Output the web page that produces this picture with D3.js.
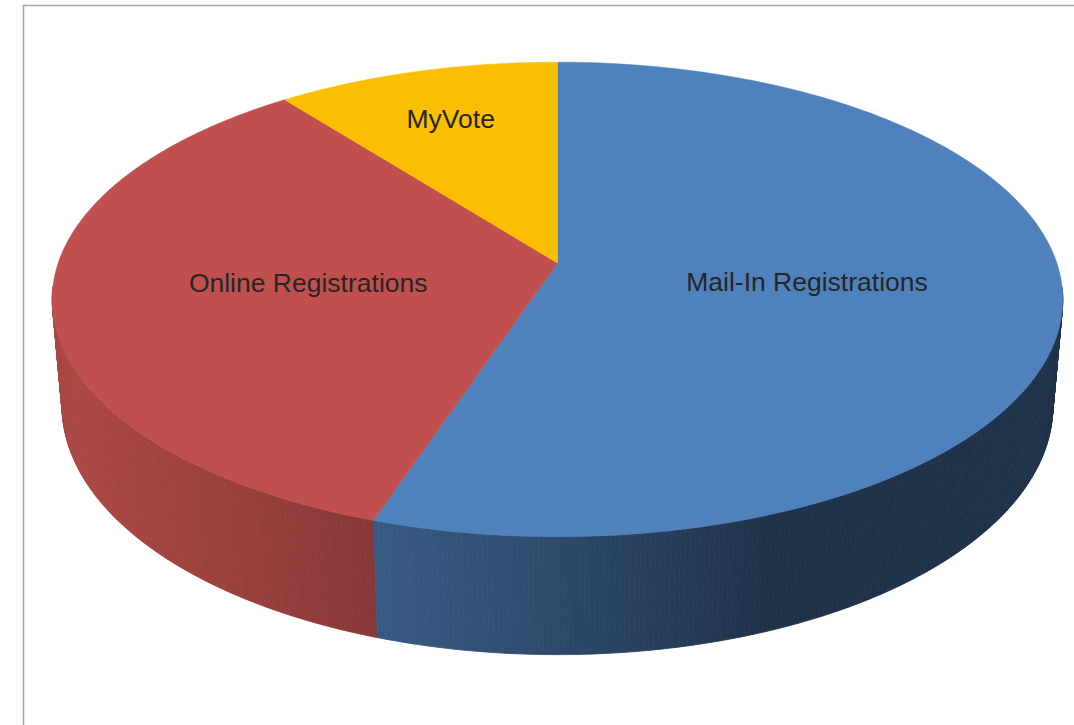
<!DOCTYPE html>
<html>
<head>
<meta charset="utf-8">
<script src="https://cdn.jsdelivr.net/npm/d3@7"></script>
<style>
  body { margin: 0; background: #ffffff; }
  svg { display: block; }
</style>
</head>
<body>
<div id="chart"></div>
<script>
// slice data (share of registrations)
const categories = ["Mail-In Registrations", "Online Registrations", "MyVote"];
const shares = [55.1, 34.4, 10.5];

const width = 1074, height = 725;

const svg = d3.select("#chart").append("svg")
    .attr("width", width)
    .attr("height", height);

// chart area frame (right and bottom edges fall outside the window)
svg.append("rect")
    .attr("x", 23.5).attr("y", 5.5)
    .attr("width", 1200).attr("height", 900)
    .attr("fill", "none")
    .attr("stroke", "#a6a6a6")
    .attr("stroke-width", 1.5);

var color = d3.scaleOrdinal()
    .domain(categories)
    .range(["#4f81bd", "#c0504d", "#fbbe00"]);

// simple perspective camera looking down on a unit disc
var cx = 557.5, cy = 263;
var phi = Math.asin(0.464);   // elevation
var dist = 5.77;              // camera distance (disc radius = 1)
var focal = 2881;
var depthH = 0.243;           // thickness of the pie

function project(X, Y, Z) {
    var depth = dist - (Y * Math.sin(phi) + Z * Math.cos(phi));
    var yc = Y * Math.cos(phi) - Z * Math.sin(phi);
    return [cx + focal * X / depth, cy - focal * yc / depth];
}
function rim(a, Y, r) {
    r = r == null ? 1 : r;
    return project(r * Math.sin(a), Y, -r * Math.cos(a));
}

var pie = d3.pie().sort(null).value(d => d.value);
var arcs = pie(categories.map((c, i) => ({ name: c, value: shares[i] })));

// wall shading: light from the left / front
function shade(base, a) {
    var X = Math.sin(a), Z = -Math.cos(a);
    var f = 0.39 + Math.max(0, -X * 0.4625 + Z * 0.1755);
    var c = d3.rgb(base);
    return d3.rgb(c.r * f, c.g * f, c.b * f).toString();
}

// outer walls, cut into thin strips so the shade can vary
var strips = [];
arcs.forEach(function(d) {
    var step = Math.PI / 360;
    var n = Math.max(1, Math.ceil((d.endAngle - d.startAngle) / step));
    for (var i = 0; i < n; i++) {
        var a0 = d.startAngle + (d.endAngle - d.startAngle) * i / n;
        var a1 = d.startAngle + (d.endAngle - d.startAngle) * (i + 1) / n;
        var am = (a0 + a1) / 2;
        if (-Math.cos(am) < 0.1) continue;   // faces away from the camera
        strips.push({ key: d.data.name, a0: a0, a1: a1, z: -Math.cos(am),
                      fill: shade(color(d.data.name), am) });
    }
});
strips.sort((a, b) => d3.ascending(a.z, b.z));

svg.append("g").attr("class", "walls")
  .selectAll("path")
  .data(strips)
  .enter().append("path")
    .attr("d", function(s) {
        var pts = [rim(s.a0, 0), rim(s.a1, 0), rim(s.a1, -depthH), rim(s.a0, -depthH)];
        return d3.line()(pts) + "Z";
    })
    .attr("fill", s => s.fill)
    .attr("stroke", s => s.fill)
    .attr("stroke-width", 0.8);

// top faces
function topPoints(d) {
    var pts = [project(0, 0, 0)];
    var n = 200;
    for (var i = 0; i <= n; i++) {
        var a = d.startAngle + (d.endAngle - d.startAngle) * i / n;
        pts.push(rim(a, 0));
    }
    return pts;
}

svg.append("g").attr("class", "tops")
  .selectAll("path")
  .data(arcs)
  .enter().append("path")
    .attr("d", d => d3.line()(topPoints(d)) + "Z")
    .attr("fill", d => color(d.data.name))
    .attr("stroke", d => color(d.data.name))
    .attr("stroke-width", 0.5);

// labels on the mid angle; narrow slices push the label further out
function labelPos(d) {
    var mid = (d.startAngle + d.endAngle) / 2;
    var r = (d.endAngle - d.startAngle) < Math.PI / 3 ? 0.73 : 0.5;
    return rim(mid, 0, r);
}

svg.append("g").attr("class", "labels")
  .selectAll("text")
  .data(arcs)
  .enter().append("text")
    .attr("x", d => labelPos(d)[0])
    .attr("y", d => labelPos(d)[1])
    .attr("dy", "0.35em")
    .attr("text-anchor", "middle")
    .style("font-family", "'Liberation Sans', Arial, sans-serif")
    .style("font-size", "26.5px")
    .style("fill", "#262626")
    .text(d => d.data.name);
</script>
</body>
</html>
